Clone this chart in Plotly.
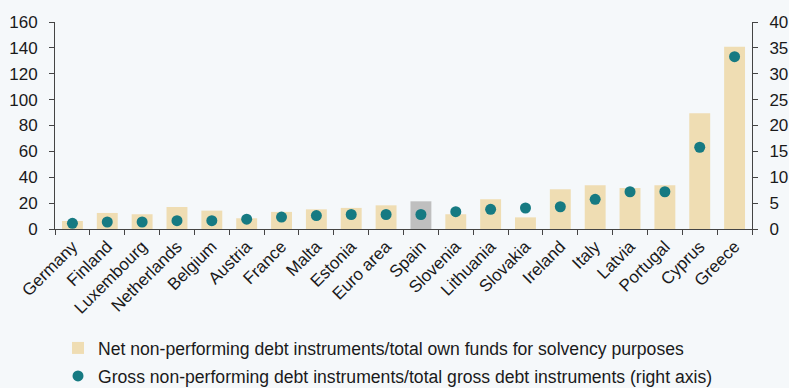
import plotly.graph_objects as go

categories = ["Germany", "Finland", "Luxembourg", "Netherlands", "Belgium", "Austria",
              "France", "Malta", "Estonia", "Euro area", "Spain", "Slovenia", "Lithuania",
              "Slovakia", "Ireland", "Italy", "Latvia", "Portugal", "Cyprus", "Greece"]
net_npl_own_funds = [6.2, 12.4, 11.4, 17.0, 14.2, 8.3, 13.2, 15.2, 16.3, 18.3,
                     21.4, 11.4, 23.0, 9.0, 30.7, 33.8, 31.7, 33.8, 89.5, 140.9]
gross_npl_ratio = [1.1, 1.35, 1.35, 1.6, 1.6, 1.9, 2.3, 2.6, 2.8, 2.8,
                   2.8, 3.35, 3.8, 4.06, 4.3, 5.74, 7.2, 7.2, 15.8, 33.3]
left_ticks = [0, 20, 40, 60, 80, 100, 120, 140, 160]
right_ticks = [0, 5, 10, 15, 20, 25, 30, 35, 40]

BAR = "#EFDDB3"
HIGHLIGHT = "#BFBFBF"
DOT = "#167A82"
BG = "#F5F8FA"
TXT = "#1a1a1a"
FONT = "Liberation Sans"
FS = 17
LFS = 17.6

bar_colors = [HIGHLIGHT if c == "Spain" else BAR for c in categories]

fig = go.Figure()
fig.add_trace(go.Bar(
    x=categories, y=net_npl_own_funds, marker=dict(color=bar_colors, line=dict(width=0)),
    width=0.6, name="Net non-performing debt instruments/total own funds for solvency purposes",
    legend="legend", yaxis="y",
))
fig.add_trace(go.Scatter(
    x=categories, y=gross_npl_ratio, mode="markers",
    marker=dict(color=DOT, size=11, line=dict(width=0)),
    name="Gross non-performing debt instruments/total gross debt instruments (right axis)",
    legend="legend2", yaxis="y2",
))

axis_common = dict(showgrid=False, zeroline=False, showline=True, linecolor="#444444",
                   linewidth=1, ticks="outside", ticklen=5, tickcolor="#444444",
                   tickfont=dict(family=FONT, size=FS, color=TXT))

fig.update_layout(
    width=789, height=388,
    margin=dict(l=55, r=37, t=22, b=159, autoexpand=False),
    paper_bgcolor=BG, plot_bgcolor=BG,
    font=dict(family=FONT, size=FS, color=TXT),
    xaxis=dict(**axis_common, tickson="boundaries", tickangle=-45,
               range=[-0.5, len(categories) - 0.5]),
    yaxis=dict(**axis_common, range=[0, 160], tickvals=left_ticks, ticklabelstandoff=8),
    yaxis2=dict(**axis_common, range=[0, 40], tickvals=right_ticks, overlaying="y",
                side="right", ticklabelstandoff=8),
    legend=dict(x=58 / 789, xref="container", y=1 - 348 / 388, yref="container",
                yanchor="middle", xanchor="left", bgcolor="rgba(0,0,0,0)",
                font=dict(family=FONT, size=LFS, color=TXT), itemwidth=30),
    legend2=dict(x=58 / 789, xref="container", y=1 - 376 / 388, yref="container",
                 yanchor="middle", xanchor="left", bgcolor="rgba(0,0,0,0)",
                 font=dict(family=FONT, size=LFS, color=TXT), itemwidth=30),
    showlegend=True,
)

fig.write_html("out.html")
